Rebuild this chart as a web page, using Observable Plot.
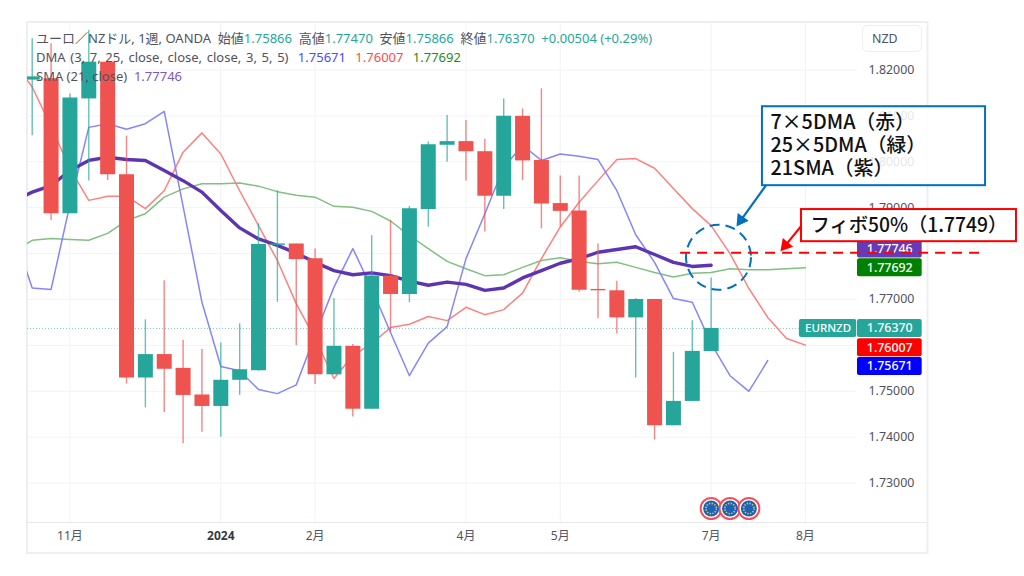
<!DOCTYPE html>
<html lang="ja">
<head>
<meta charset="utf-8">
<script src="https://cdn.jsdelivr.net/npm/d3@7"></script>
<script src="https://cdn.jsdelivr.net/npm/@observablehq/plot@0.6"></script>
<style>
  html,body{margin:0;padding:0;background:#fff;}
  #wrap{position:relative;width:1024px;height:576px;overflow:hidden;}
  #legend{position:absolute;left:36px;top:29px;font:13px/19px "Noto Sans","Noto Sans CJK JP",sans-serif;color:#50535e;white-space:pre;}
  #legend .t{color:#26a69a}
  #legend .w{word-spacing:1.3px}
  #btn{position:absolute;left:862px;top:25px;width:60px;height:27px;box-sizing:border-box;border:1px solid #eceef4;border-radius:5px;font:12.4px/26px "Noto Sans",sans-serif;color:#50535e;padding-left:9px;background:#fff;}
</style>
</head>
<body>
<div id="wrap">
  <div id="chart"></div>
  <div id="legend"><div>ユーロ／NZドル, 1週, OANDA  始値<span class="t">1.75866</span>  高値<span class="t">1.77470</span>  安値<span class="t">1.75866</span>  終値<span class="t">1.76370</span>  <span class="t">+0.00504 (+0.29%)</span></div><div class="w">DMA (3, 7, 25, close, close, close, 3, 5, 5)  <span style="color:#4a4aff">1.75671</span>  <span style="color:#ff4a4a">1.76007</span>  <span style="color:#1f8a1f">1.77692</span></div><div>SMA (21, close)  <span style="color:#7e57c2">1.77746</span></div></div>
  <div id="btn">NZD</div>
</div>
<script>
// Weekly candles, one entry per week
const opens  = [1.8178,1.8181,1.7887,1.8137,1.8217,1.7972,1.7529,1.7580,1.7550,1.7492,1.7467,1.7524,1.7545,1.7818,1.7821,1.7789,1.7536,1.7598,1.7461,1.7751,1.7711,1.7896,1.8036,1.8044,1.8022,1.7925,1.8099,1.8003,1.7909,1.7893,1.7722,1.7719,1.7660,1.7700,1.7425,1.7478,1.75866];
const closes = [1.8185,1.7887,1.8139,1.8217,1.7972,1.7529,1.7580,1.7548,1.7491,1.7467,1.7524,1.7547,1.7820,1.7821,1.7787,1.7536,1.7598,1.7461,1.7751,1.7711,1.7898,1.8037,1.8044,1.8022,1.7925,1.8099,1.8002,1.7908,1.7892,1.7720,1.7719,1.7660,1.7700,1.7425,1.7478,1.7587,1.7637];
const highs  = [1.8268,1.8257,1.8148,1.8286,1.8217,1.8056,1.7656,1.7741,1.7611,1.7591,1.7605,1.7647,1.7865,1.7937,1.7821,1.7810,1.7702,1.7602,1.7839,1.7872,1.7903,1.8043,1.8101,1.8090,1.8049,1.8137,1.8115,1.8159,1.7969,1.7969,1.7821,1.7740,1.7702,1.7700,1.7585,1.7654,1.7747];
const lows   = [1.8057,1.7872,1.7887,1.7958,1.7959,1.7516,1.7464,1.7454,1.7386,1.7411,1.7400,1.7491,1.7544,1.7694,1.7600,1.7515,1.7536,1.7444,1.7461,1.7629,1.7693,1.7858,1.7999,1.7958,1.7847,1.7896,1.7959,1.7854,1.7858,1.7716,1.7658,1.7625,1.7529,1.7394,1.7425,1.7478,1.75866];

// Displaced moving averages; the first value belongs to the week before the first candle
const dma3  = [1.7846,1.7725,1.7722,1.7907,1.8075,1.8083,1.8071,1.8083,1.8110,1.7903,1.7694,1.7554,1.7545,1.7504,1.7495,1.7514,1.7622,1.7727,1.7811,1.7724,1.7628,1.7534,1.7605,1.7641,1.7789,1.7887,1.7988,1.8036,1.8003,1.8017,1.8012,1.8005,1.7937,1.7841,1.7781,1.7702,1.7694,1.7604,1.7534,1.7500,1.75671];
const dma7  = [1.8218,1.8163,1.8077,1.7985,1.7916,1.7925,1.7925,1.7898,1.7937,1.8021,1.8063,1.8017,1.7937,1.7861,1.7785,1.7691,1.7615,1.7528,1.7578,1.7604,1.7639,1.7646,1.7663,1.7654,1.7683,1.7667,1.7678,1.7714,1.7789,1.7858,1.7912,1.7959,1.8005,1.8007,1.7986,1.7942,1.7898,1.7861,1.7800,1.7724,1.7661,1.7615,1.76007];
const dma25 = [1.7805,1.7829,1.7833,1.7831,1.7829,1.7844,1.7872,1.7887,1.7923,1.7941,1.7952,1.7952,1.7954,1.7947,1.7935,1.7927,1.7923,1.7903,1.7901,1.7892,1.7871,1.7839,1.7811,1.7783,1.7767,1.7752,1.7754,1.7770,1.7785,1.7791,1.7783,1.7778,1.7781,1.7770,1.7759,1.7749,1.7757,1.7759,1.7767,1.7765,1.7765,1.7767,1.77692];
const sma21 = [1.7915,1.7934,1.7948,1.7981,1.8003,1.8010,1.8005,1.8003,1.7981,1.7959,1.7934,1.7894,1.7856,1.7832,1.7818,1.7801,1.7781,1.7763,1.7754,1.7758,1.7752,1.7740,1.7731,1.7738,1.7733,1.7720,1.7725,1.7747,1.7763,1.7779,1.7789,1.7803,1.7809,1.7815,1.7798,1.7781,1.7772,1.77746];

// Axes
const xTickWeeks  = [2,15,23,28,36,41];
const xTickLabels = ["11月","2月","4月","5月","7月","8月"];
const yearWeek = [10];
const yearLabel = ["2024"];
const yGrid = [1.82,1.81,1.80,1.79,1.78,1.77,1.76,1.75,1.74,1.73];
const yTickLabels = [1.82,1.81,1.80,1.79,1.77,1.75,1.74,1.73];
const lastClose = [1.7637];

// Price tags at the right edge
const tagLabels = ["1.77746","1.77692","1.76370","1.76007","1.75671"];
const tagCentres = [1.7810,1.7769,1.7637,1.7595,1.7554];
const tagColors = ["#673ab7","#008000","#26a69a","#ff0000","#0000ff"];

// Annotations
const noteBlue = ["7×5DMA（赤）","25×5DMA（緑）","21SMA（紫）"];
const noteBlueY = [1.8086,1.8036,1.7985];
const noteRed = ["フィボ50%（1.7749）"];
const flagWeeks = [36,37,38];

const RED="#ef5350", TEAL="#26a69a";
const candles = opens.map((o,i)=>({k:i,open:o,close:closes[i],high:highs[i],low:lows[i],c:closes[i]>=o?TEAL:RED}));
const series = a => a.map((v,i)=>({k:i-1,v}));
const one = [{}];
const tagH = 0.00196;
const tags = tagLabels.map((label,i)=>({label,y:tagCentres[i],fill:tagColors[i]}));
const noteFont = '"Noto Sans CJK JP",sans-serif';

const chart = Plot.plot({
  width:1024, height:576,
  marginLeft:27, marginRight:167, marginTop:22, marginBottom:54,
  style:{fontFamily:'"Noto Sans","Noto Sans CJK JP",sans-serif',background:"#fff",overflow:"visible"},
  x:{type:"linear",domain:[-0.25,43.76]},
  y:{type:"linear",domain:[1.72142,1.83035]},
  color:{type:"identity"},
  marks:[
    // outer frame
    Plot.rect(one,{x1:()=>-0.25,x2:()=>47.5,y1:()=>1.7147,y2:()=>1.83035,stroke:"#eceef4",strokeWidth:2,fill:"#fff"}),
    Plot.gridX([...xTickWeeks,...yearWeek],{x:d=>d,stroke:"#f0f3fa",strokeOpacity:1}),
    Plot.gridY(yGrid,{y:d=>d,stroke:"#f0f3fa",strokeOpacity:1}),
    Plot.ruleY([1.72142],{x1:()=>-0.25,x2:()=>47.5,stroke:"#e6e8f0"}),
    Plot.axisY({anchor:"right",ticks:yTickLabels,tickSize:0,tickPadding:11,tickFormat:d=>d.toFixed(5),fontSize:12.4,color:"#50535e",label:null}),
    Plot.axisX({ticks:xTickWeeks,tickSize:0,tickPadding:9,tickFormat:d=>xTickLabels[xTickWeeks.indexOf(d)],fontSize:12,color:"#50535e",label:null}),
    Plot.axisX({ticks:yearWeek,tickSize:0,tickPadding:9,tickFormat:()=>yearLabel[0],fontSize:12,fontWeight:"bold",color:"#363a45",label:null}),
    // moving averages
    Plot.line(series(dma25),{x:"k",y:"v",stroke:"#80c080",strokeWidth:1.5,clip:true}),
    Plot.line(series(dma7),{x:"k",y:"v",stroke:"#ff8080",strokeWidth:1.5,clip:true}),
    Plot.line(series(dma3),{x:"k",y:"v",stroke:"#8585ff",strokeWidth:1.5,clip:true}),
    Plot.line(series(sma21),{x:"k",y:"v",stroke:"#5e35b1",strokeWidth:3.4,clip:true}),
    // last price line
    Plot.ruleY(lastClose,{x1:()=>-0.25,x2:()=>40.68,stroke:TEAL,strokeOpacity:.6,strokeDasharray:"1 2"}),
    // candles
    Plot.ruleX(candles,{x:"k",y1:"low",y2:"high",stroke:"c",strokeWidth:1.4,strokeOpacity:.7,clip:true}),
    Plot.ruleX(candles,{x:"k",y1:"open",y2:"close",stroke:"c",strokeWidth:15,clip:true}),
    // flags
    Plot.dot(flagWeeks,{x:d=>d,y:()=>1.72447,r:10.5,fill:"#fff",stroke:"#f4505a",strokeWidth:2}),
    Plot.dot(flagWeeks,{x:d=>d,y:()=>1.72447,r:8,fill:"#1c62b8"}),
    Plot.dot(flagWeeks,{x:d=>d,y:()=>1.72447,r:5.2,stroke:"#e8c93a",strokeWidth:1.6,strokeDasharray:"1.3 1.42"}),
    // price tags
    Plot.rect(one,{x1:()=>40.68,x2:()=>43.72,y1:()=>lastClose[0]-tagH,y2:()=>lastClose[0]+tagH,fill:TEAL,rx:2}),
    Plot.text(["EURNZD"],{x:()=>42.2,y:()=>lastClose[0],text:d=>d,fill:"#fff",fontSize:11.5,fontWeight:500}),
    Plot.rect(tags,{x1:()=>43.76,x2:()=>47.19,y1:d=>d.y-tagH,y2:d=>d.y+tagH,fill:"fill",rx:2}),
    Plot.text(tags,{x:()=>45.47,y:"y",text:"label",fill:"#fff",fontSize:12.4,fontWeight:500}),
    // dashed circle and fibonacci level
    Plot.dot(one,{x:()=>36.39,y:()=>1.7792,r:32.5,stroke:"#0070c0",strokeWidth:2,strokeDasharray:"10 6"}),
    Plot.ruleY([1.7802],{x1:()=>34.38,x2:()=>50.6,stroke:"#ff0000",strokeWidth:2,strokeDasharray:"10 7"}),
    // note boxes
    Plot.rect(one,{x1:()=>38.72,x2:()=>50.55,y1:()=>1.7948,y2:()=>1.8120,fill:"#fff",fillOpacity:.86,stroke:"#0070c0",strokeWidth:2}),
    Plot.text(noteBlue,{x:()=>39.15,y:(d,i)=>noteBlueY[i],text:d=>d,textAnchor:"start",fontFamily:noteFont,fontSize:19.8,fontWeight:500,fill:"#111"}),
    Plot.link(one,{x1:()=>38.9,y1:()=>1.7948,x2:()=>37.58,y2:()=>1.7873,stroke:"#0070c0",strokeWidth:2.2}),
    Plot.dot(one,{x:()=>37.58,y:()=>1.7873,symbol:"triangle",r:5,fill:"#0070c0",rotate:()=>215}),
    Plot.rect(one,{x1:()=>40.79,x2:()=>52.19,y1:()=>1.7826,y2:()=>1.7896,fill:"#fff",stroke:"#ff0000",strokeWidth:2}),
    Plot.text(noteRed,{x:()=>41.27,y:()=>1.7861,text:d=>d,textAnchor:"start",fontFamily:noteFont,fontSize:19.3,fontWeight:500,fill:"#111"}),
    Plot.link(one,{x1:()=>40.79,y1:()=>1.7861,x2:()=>39.94,y2:()=>1.7818,stroke:"#ff0000",strokeWidth:2.2}),
    Plot.dot(one,{x:()=>39.94,y:()=>1.7818,symbol:"triangle",r:5,fill:"#ff0000",rotate:()=>220})
  ]
});
document.getElementById("chart").append(chart);
</script>
</body>
</html>
